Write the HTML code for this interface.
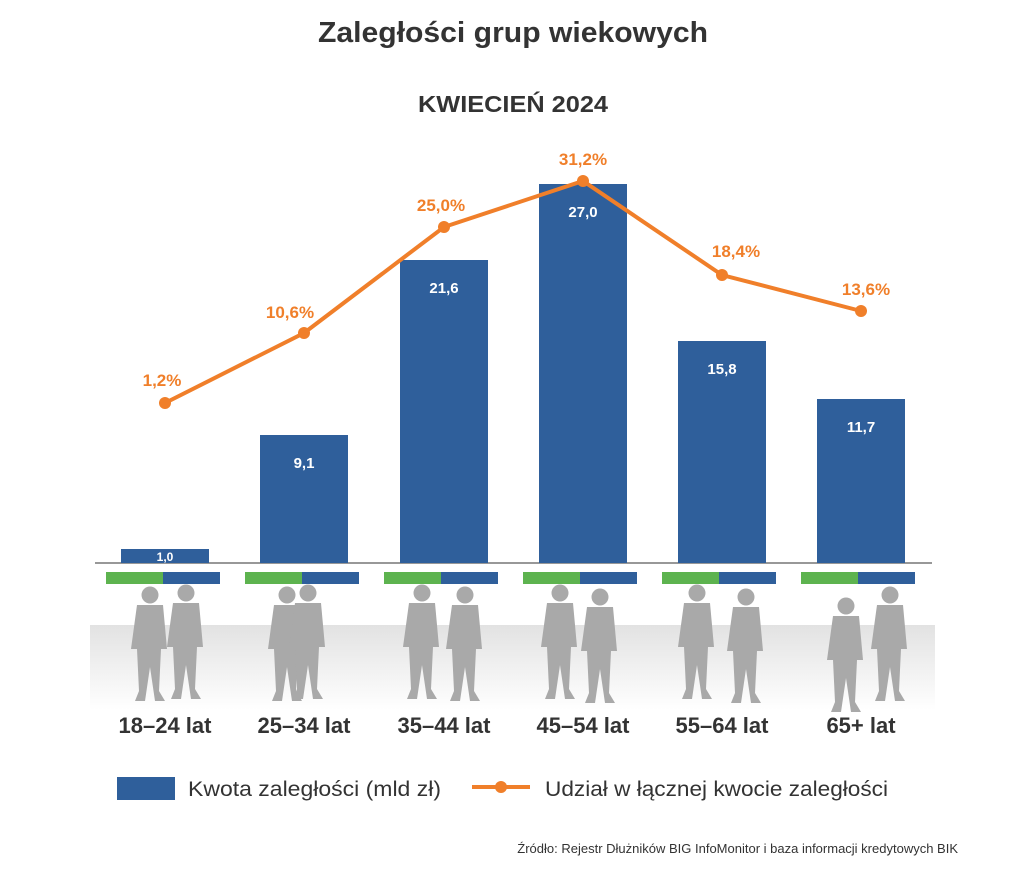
<!DOCTYPE html>
<html><head><meta charset="utf-8"><style>
body{margin:0;background:#fff}
svg text{font-family:"Liberation Sans",sans-serif}
</style></head><body>
<svg width="1034" height="882" viewBox="0 0 1034 882" xmlns="http://www.w3.org/2000/svg">
<defs>
<linearGradient id="g" x1="0" y1="0" x2="0" y2="1">
<stop offset="0" stop-color="#e2e2e2"/><stop offset="1" stop-color="#ffffff"/>
</linearGradient>
<g id="p">
<circle cx="0" cy="0" r="8.5" fill="#a9a9a9"/>
<path d="M-13,10 h26 l4,44 h-6 l-2,42 l6,10 h-10 l-5,-34 l-5,34 h-10 l4,-10 l-2,-42 h-6 z" fill="#a9a9a9"/>
</g>
</defs>
<rect x="90" y="625" width="845" height="85" fill="url(#g)"/>
<text x="318" y="42" textLength="390" lengthAdjust="spacingAndGlyphs" font-size="29" font-weight="bold" fill="#333">Zaległości grup wiekowych</text>
<text x="418" y="112" textLength="190" lengthAdjust="spacingAndGlyphs" font-size="23" font-weight="bold" fill="#333">KWIECIEŃ 2024</text>
<line x1="95" y1="563" x2="932" y2="563" stroke="#777" stroke-width="1.5"/>
<g fill="#2f5f9b">
<rect x="121" y="549" width="88" height="14"/>
<rect x="260" y="435" width="88" height="128"/>
<rect x="400" y="260" width="88" height="303"/>
<rect x="539" y="184" width="88" height="379"/>
<rect x="678" y="341" width="88" height="222"/>
<rect x="817" y="399" width="88" height="164"/>
</g>
<g fill="#fff" font-size="15" font-weight="bold" text-anchor="middle">
<text x="165" y="561" font-size="12">1,0</text>
<text x="304" y="468">9,1</text>
<text x="444" y="293">21,6</text>
<text x="583" y="217">27,0</text>
<text x="722" y="374">15,8</text>
<text x="861" y="432">11,7</text>
</g>
<g>
<rect x="106" y="572" width="57" height="12" fill="#5db34f"/><rect x="163" y="572" width="57" height="12" fill="#2f5f9b"/>
<rect x="245" y="572" width="57" height="12" fill="#5db34f"/><rect x="302" y="572" width="57" height="12" fill="#2f5f9b"/>
<rect x="384" y="572" width="57" height="12" fill="#5db34f"/><rect x="441" y="572" width="57" height="12" fill="#2f5f9b"/>
<rect x="523" y="572" width="57" height="12" fill="#5db34f"/><rect x="580" y="572" width="57" height="12" fill="#2f5f9b"/>
<rect x="662" y="572" width="57" height="12" fill="#5db34f"/><rect x="719" y="572" width="57" height="12" fill="#2f5f9b"/>
<rect x="801" y="572" width="57" height="12" fill="#5db34f"/><rect x="858" y="572" width="57" height="12" fill="#2f5f9b"/>
</g>
<g>
<use href="#p" x="150" y="595"/><use href="#p" x="186" y="593"/>
<use href="#p" x="287" y="595"/><use href="#p" x="308" y="593"/>
<use href="#p" x="422" y="593"/><use href="#p" x="465" y="595"/>
<use href="#p" x="560" y="593"/><use href="#p" x="600" y="597"/>
<use href="#p" x="697" y="593"/><use href="#p" x="746" y="597"/>
<use href="#p" x="846" y="606"/><use href="#p" x="890" y="595"/>
</g>
<polyline points="165,403 304,333 444,227 583,181 722,275 861,311" fill="none" stroke="#f07f2a" stroke-width="4"/>
<g fill="#f07f2a">
<circle cx="165" cy="403" r="6"/><circle cx="304" cy="333" r="6"/><circle cx="444" cy="227" r="6"/>
<circle cx="583" cy="181" r="6"/><circle cx="722" cy="275" r="6"/><circle cx="861" cy="311" r="6"/>
</g>
<g fill="#f07f2a" font-size="17" font-weight="bold" text-anchor="middle">
<text x="162" y="386">1,2%</text>
<text x="290" y="318">10,6%</text>
<text x="441" y="211">25,0%</text>
<text x="583" y="165">31,2%</text>
<text x="736" y="257">18,4%</text>
<text x="866" y="295">13,6%</text>
</g>
<g fill="#333" font-size="22" font-weight="bold" text-anchor="middle">
<text x="165" y="733">18–24 lat</text>
<text x="304" y="733">25–34 lat</text>
<text x="444" y="733">35–44 lat</text>
<text x="583" y="733">45–54 lat</text>
<text x="722" y="733">55–64 lat</text>
<text x="861" y="733">65+ lat</text>
</g>
<rect x="117" y="777" width="58" height="23" fill="#2f5f9b"/>
<text x="188" y="796" textLength="253" lengthAdjust="spacingAndGlyphs" font-size="21" fill="#333">Kwota zaległości (mld zł)</text>
<line x1="472" y1="787" x2="530" y2="787" stroke="#f07f2a" stroke-width="4"/>
<circle cx="501" cy="787" r="6" fill="#f07f2a"/>
<text x="545" y="796" textLength="343" lengthAdjust="spacingAndGlyphs" font-size="21" fill="#333">Udział w łącznej kwocie zaległości</text>
<text x="958" y="853" text-anchor="end" font-size="13" fill="#333">Źródło: Rejestr Dłużników BIG InfoMonitor i baza informacji kredytowych BIK</text>
</svg>
</body></html>
